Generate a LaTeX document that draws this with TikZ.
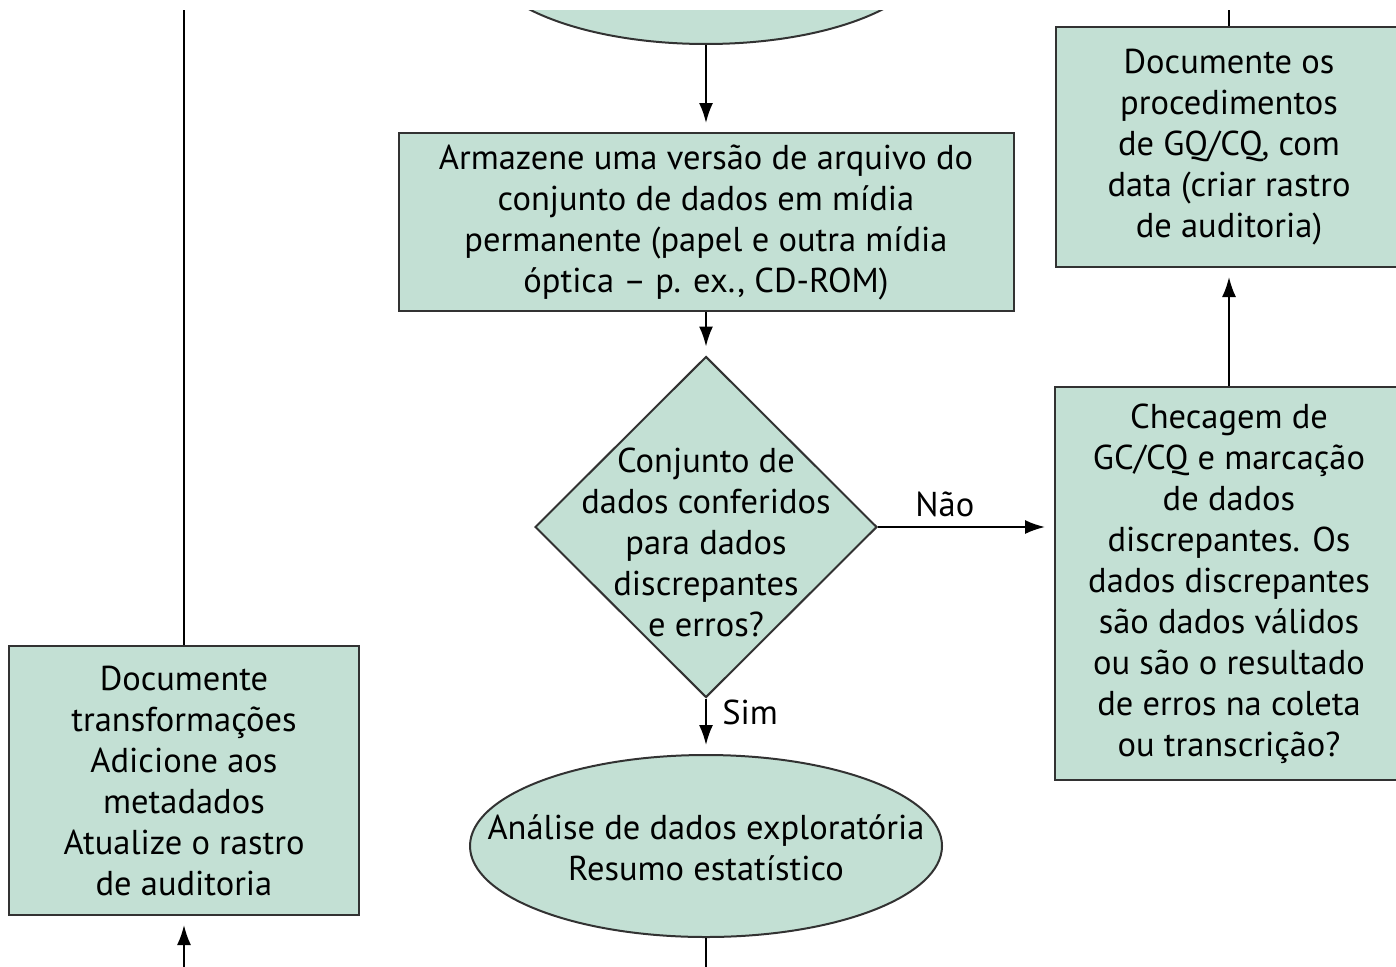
\documentclass[tikz,border=0pt]{standalone}
\usepackage{fontspec}
\setmainfont{PT Sans}
\usetikzlibrary{shapes.geometric,arrows.meta}
\definecolor{boxgreen}{RGB}{195,224,212}
\definecolor{edgegray}{RGB}{50,50,50}

\begin{document}
\begin{tikzpicture}[x=1pt,y=-1pt,
	every node/.style={font=\fontsize{34.5}{41}\selectfont},
	procbox/.style={draw=edgegray,fill=boxgreen,line width=2pt,inner sep=0pt,align=center},
	termshape/.style={ellipse,draw=edgegray,fill=boxgreen,line width=2pt,inner sep=0pt},
	decshape/.style={diamond,draw=edgegray,fill=boxgreen,line width=2pt,inner sep=0pt},
	flow/.style={line width=2pt,-{Latex[length=20pt,width=14pt]},shorten >=9pt},
	link/.style={line width=2pt}]
	\useasboundingbox (0,0) rectangle (1396,966);
	\clip (0,11) rectangle (1396,966);
	% shapes
	\node[termshape,minimum width=450pt,minimum height=182pt] (prev) at (706,-47) {};
	\node[procbox,minimum width=615pt,minimum height=178pt] (store) at (706,222) {Armazene uma versão de arquivo do\\conjunto de dados em mídia\\permanente (papel e outra mídia\\óptica – p. ex., CD-ROM)};
	\node[decshape,minimum width=342pt,minimum height=341pt] (check) at (706,527) {};
	\node[align=center] (checktxt) at ([yshift=-15pt]check.center) {Conjunto de\\dados conferidos\\para dados\\discrepantes\\e erros?};
	\node[procbox,minimum width=348pt,minimum height=393pt] (qc) at (1229,583.5) {Checagem de\\GC/CQ e marcação\\de dados\\discrepantes. Os\\dados discrepantes\\são dados válidos\\ou são o resultado\\de erros na coleta\\ou transcrição?};
	\node[procbox,minimum width=346pt,minimum height=240pt] (docqc) at (1229,147) {Documente os\\procedimentos\\de GQ/CQ, com\\data (criar rastro\\de auditoria)};
	\node[termshape,minimum width=472pt,minimum height=182pt] (eda) at (706,846) {};
	\node[align=center] (edatxt) at ([yshift=-2pt]eda.center) {Análise de dados exploratória\\Resumo estatístico};
	\node[procbox,minimum width=350pt,minimum height=269pt] (doctrans) at (184,780.5) {Documente\\transformações\\Adicione aos\\metadados\\Atualize o rastro\\de auditoria};
	% free ends
	\coordinate (qctop) at (1229,-10);
	\coordinate (lefttop) at (184,-10);
	\coordinate (leftin) at (184,990);
	\coordinate (edaout) at (706,990);
	% connectors
	\draw[flow] (prev.south) -- (store.north);
	\draw[flow] (store.south) -- (check.north);
	\draw[flow] (check.east) -- node[above=6pt,pos=0.38]{Não} (qc.west |- check.east);
	\draw[flow] (check.south) -- node[right=12pt,pos=0.25]{Sim} (eda.north);
	\draw[flow] (qc.north) -- (docqc.south);
	\draw[link] (docqc.north) -- (qctop);
	\draw[link] (doctrans.north) -- (lefttop);
	\draw[flow] (leftin) -- (doctrans.south);
	\draw[link] (eda.south) -- (edaout);
\end{tikzpicture}
\end{document}
